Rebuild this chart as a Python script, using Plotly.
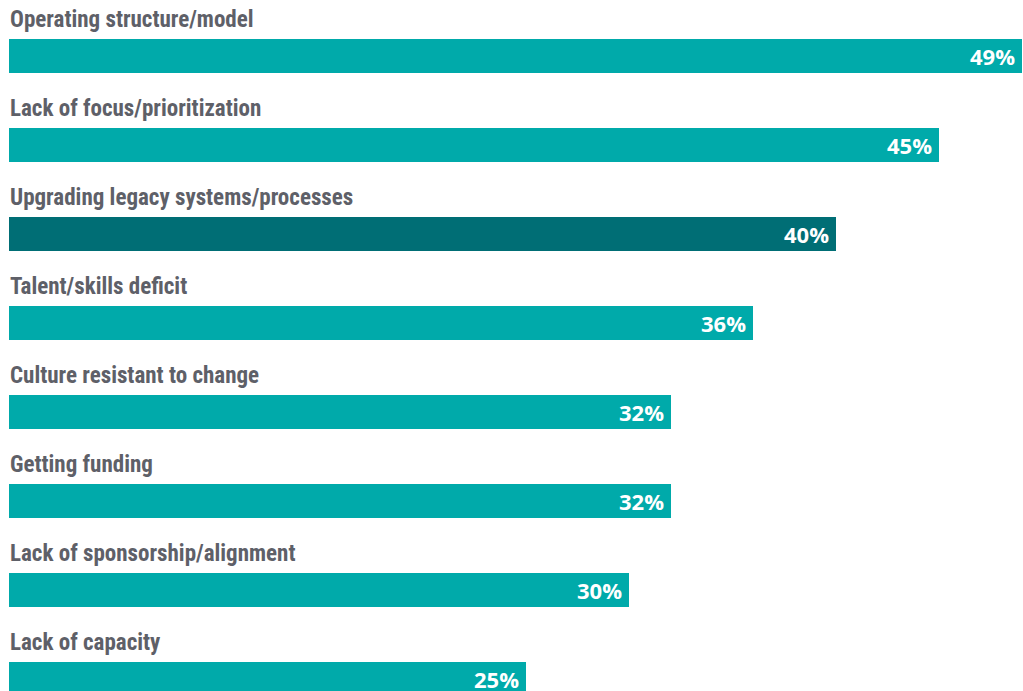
import plotly.graph_objects as go

# Barriers and the share of respondents citing each one
categories = [
    "Operating structure/model",
    "Lack of focus/prioritization",
    "Upgrading legacy systems/processes",
    "Talent/skills deficit",
    "Culture resistant to change",
    "Getting funding",
    "Lack of sponsorship/alignment",
    "Lack of capacity",
]
values = [49, 45, 40, 36, 32, 32, 30, 25]
highlight = "Upgrading legacy systems/processes"

TEAL = "#00aaaa"
DARK_TEAL = "#006e75"
LABEL_GREY = "#5e6068"
LABEL_FONT = "Liberation Sans Narrow, Roboto Condensed, Open Sans, sans-serif"
VALUE_FONT = "Open Sans, sans-serif"

positions = list(range(len(categories)))
colors = [DARK_TEAL if c == highlight else TEAL for c in categories]
bar_width = 0.382

fig = go.Figure(
    go.Bar(
        x=values,
        y=positions,
        orientation="h",
        width=bar_width,
        marker=dict(color=colors, line=dict(width=0)),
        hoverinfo="skip",
    )
)

annotations = []
for pos, cat, val in zip(positions, categories, values):
    # category label sitting just above its bar
    annotations.append(dict(
        x=0, y=pos - bar_width / 2, xref="x", yref="y",
        text=cat, showarrow=False, xanchor="left", yanchor="bottom",
        yshift=4, xshift=-1,
        font=dict(family=LABEL_FONT, size=23, color=LABEL_GREY, weight="bold"),
    ))
    # value printed inside the end of the bar
    annotations.append(dict(
        x=val, y=pos, xref="x", yref="y",
        text=f"{val}%", showarrow=False, xanchor="right", yanchor="middle",
        xshift=-5,
        font=dict(family=VALUE_FONT, size=22, color="white", weight="bold"),
    ))

fig.update_layout(
    width=1023, height=691,
    margin=dict(l=0, r=0, t=0, b=0),
    paper_bgcolor="white", plot_bgcolor="white",
    showlegend=False,
    bargap=0,
    xaxis=dict(range=[-0.435, 49.048], visible=False, fixedrange=True),
    yaxis=dict(range=[7.135, -0.629], visible=False, fixedrange=True),
    annotations=annotations,
)

fig.write_html("out.html")
